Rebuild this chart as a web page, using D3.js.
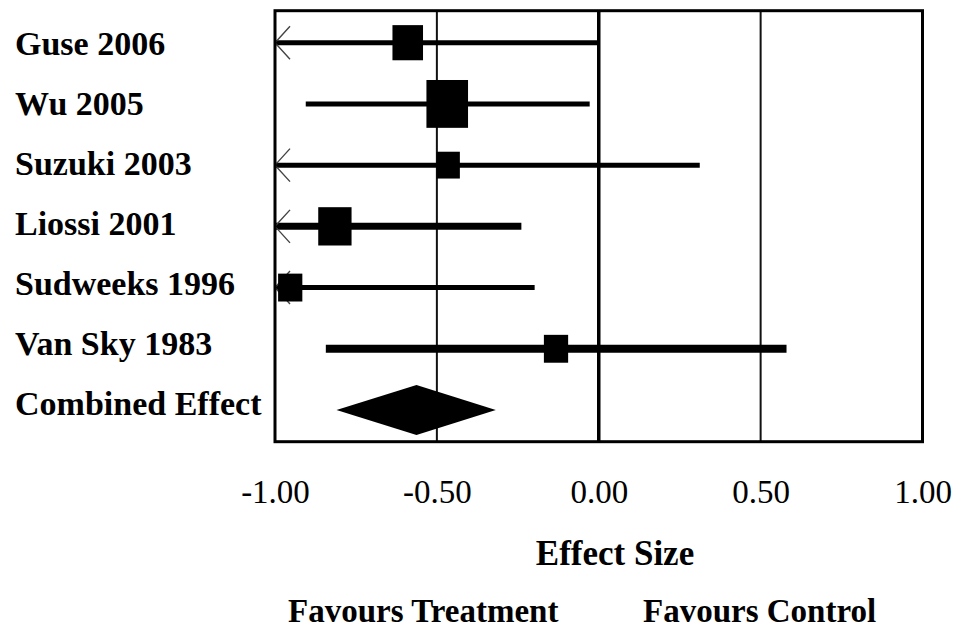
<!DOCTYPE html>
<html>
<head>
<meta charset="utf-8">
<script src="https://cdn.jsdelivr.net/npm/d3@7"></script>
<style>
  body { margin: 0; background: #fff; overflow: hidden; }
  svg { display: block; }
  text { font-family: "Liberation Serif", "Times New Roman", serif; fill: #000; }
</style>
</head>
<body>
<script>
var w = 957;
var h = 630;

//study data
var studies = ["Guse 2006", "Wu 2005", "Suzuki 2003", "Liossi 2001", "Sudweeks 1996", "Van Sky 1983"];
var effect = [-0.59, -0.468, -0.465, -0.815, -0.953, -0.132];
var lower = [-1.18, -0.905, -1.24, -1.39, -1.71, -0.843];
var upper = [-0.005, -0.028, 0.312, -0.239, -0.198, 0.58];
var weight = [17.0, 31.5, 9.9, 20.2, 10.7, 10.7];

//pooled estimate: lower, effect, upper
var combinedLabel = "Combined Effect";
var combined = [-0.81, -0.563, -0.318];

var tickValues = [-1, -0.5, 0, 0.5, 1];
var refLines = [-0.5, 0.5];

//a couple of the CI lines are drawn heavier in the original
var lineWidth = {"Liossi 2001": 7, "Van Sky 1983": 8};

var svg = d3.select("body").append("svg")
    .attr("width", w)
    .attr("height", h);

var plotTop = 10.7, plotBottom = 441.7;

var x = d3.scaleLinear()
    .domain([-1, 1])
    .range([275, 922.5]);

var rows = studies.concat([combinedLabel]);

var y = d3.scalePoint()
    .domain(rows)
    .range([42.7, 410]);

//labels sit on a slightly tighter spacing than the rows
var yLabel = d3.scalePoint()
    .domain(rows)
    .range([44, 404]);

//box size from study weight
var boxSize = d3.scaleSqrt()
    .domain([0, d3.max(weight)])
    .range([0, 41.6]);

//reference lines
svg.selectAll("line.ref")
    .data(refLines)
    .enter().append("line")
    .attr("class", "ref")
    .attr("x1", function(d) { return x(d); })
    .attr("x2", function(d) { return x(d); })
    .attr("y1", plotTop)
    .attr("y2", plotBottom)
    .attr("stroke", "#111")
    .attr("stroke-width", 2);

//line of no effect
svg.append("line")
    .attr("x1", x(0)).attr("x2", x(0))
    .attr("y1", plotTop).attr("y2", plotBottom)
    .attr("stroke", "#000")
    .attr("stroke-width", 3.5);

var data = studies.map(function(s, i) {
    return {name: s, effect: effect[i], lower: lower[i], upper: upper[i], weight: weight[i]};
});

//confidence intervals, clipped to the axis range
svg.selectAll("line.ci")
    .data(data)
    .enter().append("line")
    .attr("class", "ci")
    .attr("x1", function(d) { return x(Math.max(d.lower, -1)); })
    .attr("x2", function(d) { return x(Math.min(d.upper, 1)); })
    .attr("y1", function(d) { return y(d.name); })
    .attr("y2", function(d) { return y(d.name); })
    .attr("stroke", "#000")
    .attr("stroke-width", function(d) { return lineWidth[d.name] || 5; });

//arrows where the interval runs off the left edge
svg.selectAll("path.arrow")
    .data(data.filter(function(d) { return d.lower < -1; }))
    .enter().append("path")
    .attr("class", "arrow")
    .attr("d", function(d) {
        var x0 = x(-1), y0 = y(d.name);
        return "M" + (x0 + 15) + "," + (y0 - 16.5) + "L" + x0 + "," + y0 + "L" + (x0 + 15) + "," + (y0 + 16.5);
    })
    .attr("fill", "none")
    .attr("stroke", "#444")
    .attr("stroke-width", 1.4);

//study boxes (drawn a bit taller than wide, like the original)
svg.selectAll("rect.box")
    .data(data)
    .enter().append("rect")
    .attr("class", "box")
    .attr("x", function(d) { return x(d.effect) - boxSize(d.weight) / 2; })
    .attr("y", function(d) { return y(d.name) - boxSize(d.weight) * 1.15 / 2; })
    .attr("width", function(d) { return boxSize(d.weight); })
    .attr("height", function(d) { return boxSize(d.weight) * 1.15; })
    .attr("fill", "#000");

//combined effect diamond
var cy = y(combinedLabel);
svg.append("polygon")
    .attr("points", [
        [x(combined[0]), cy],
        [x(combined[1]), cy - 25],
        [x(combined[2]), cy],
        [x(combined[1]), cy + 25]
    ].map(function(p) { return p.join(","); }).join(" "))
    .attr("fill", "#000");

//frame
svg.append("rect")
    .attr("x", x(-1))
    .attr("y", plotTop)
    .attr("width", x(1) - x(-1))
    .attr("height", plotBottom - plotTop)
    .attr("fill", "none")
    .attr("stroke", "#000")
    .attr("stroke-width", 3);

//study labels
svg.selectAll("text.label")
    .data(rows)
    .enter().append("text")
    .attr("class", "label")
    .attr("x", 15)
    .attr("y", function(d) { return yLabel(d) + 11; })
    .attr("font-size", 34)
    .attr("font-weight", "bold")
    .text(function(d) { return d; });

//x axis labels
var axis = svg.append("g")
    .attr("transform", "translate(0," + plotBottom + ")")
    .call(d3.axisBottom(x)
        .tickValues(tickValues)
        .tickSize(0)
        .tickFormat(function(d) { return d.toFixed(2); }));

axis.select(".domain").remove();
axis.selectAll("text")
    .attr("y", 61.3)
    .attr("dy", 0)
    .attr("font-size", 33)
    .attr("font-family", "Liberation Serif")
    .attr("fill", "#000");

svg.append("text")
    .attr("x", 615)
    .attr("y", 565)
    .attr("text-anchor", "middle")
    .attr("font-size", 35)
    .attr("font-weight", "bold")
    .text("Effect Size");

svg.append("text")
    .attr("x", 288)
    .attr("y", 622)
    .attr("font-size", 33)
    .attr("font-weight", "bold")
    .text("Favours Treatment");

svg.append("text")
    .attr("x", 643)
    .attr("y", 622)
    .attr("font-size", 33)
    .attr("font-weight", "bold")
    .text("Favours Control");
</script>
</body>
</html>
